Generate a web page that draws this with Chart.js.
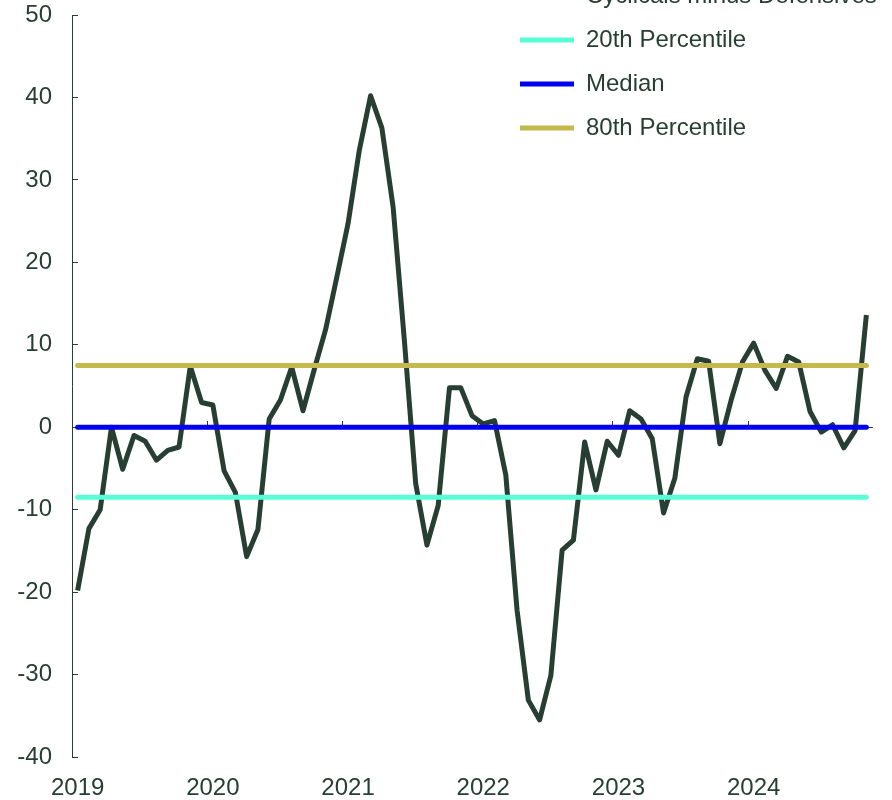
<!DOCTYPE html>
<html lang="en">
<head>
  <meta charset="UTF-8">
  <title>Cyclicals minus Defensives</title>
  <script src="https://cdn.jsdelivr.net/npm/chart.js"></script>
  <style>
    body {
      margin: 0;
      background-color: #ffffff;
    }
    .wrap {
      position: relative;
      width: 892px;
      height: 800px;
    }
  </style>
</head>
<body>
<div class="wrap">
  <canvas id="spreadChart" width="892" height="800"></canvas>
</div>

<script>
  // monthly categories, Jan 2019 - Nov 2024
  const months = [
    '2019-01','2019-02','2019-03','2019-04','2019-05','2019-06','2019-07','2019-08','2019-09','2019-10','2019-11','2019-12',
    '2020-01','2020-02','2020-03','2020-04','2020-05','2020-06','2020-07','2020-08','2020-09','2020-10','2020-11','2020-12',
    '2021-01','2021-02','2021-03','2021-04','2021-05','2021-06','2021-07','2021-08','2021-09','2021-10','2021-11','2021-12',
    '2022-01','2022-02','2022-03','2022-04','2022-05','2022-06','2022-07','2022-08','2022-09','2022-10','2022-11','2022-12',
    '2023-01','2023-02','2023-03','2023-04','2023-05','2023-06','2023-07','2023-08','2023-09','2023-10','2023-11','2023-12',
    '2024-01','2024-02','2024-03','2024-04','2024-05','2024-06','2024-07','2024-08','2024-09','2024-10','2024-11'
  ];

  const yearTicks = ['2019', '2020', '2021', '2022', '2023', '2024'];

  const spread = [
    -19.8, -12.3, -10.0, 0.0, -5.1, -1.0, -1.7, -4.0, -2.8, -2.4, 7.4, 3.0,
    2.7, -5.3, -7.9, -15.7, -12.4, 1.0, 3.3, 7.3, 2.0, 7.0, 11.8, 18.2,
    24.7, 33.6, 40.2, 36.3, 26.7, 10.5, -6.8, -14.3, -9.5, 4.8, 4.8, 1.4,
    0.4, 0.8, -5.8, -22.2, -33.1, -35.5, -30.1, -14.9, -13.7, -1.8, -7.6, -1.7,
    -3.4, 2.0, 1.0, -1.4, -10.4, -6.2, 3.7, 8.3, 8.0, -2.0, 3.3, 7.9,
    10.2, 6.9, 4.7, 8.6, 7.9, 1.9, -0.6, 0.3, -2.5, -0.4, 13.6
  ];

  const pct20 = -8.5;
  const median = 0;
  const pct80 = 7.5;

  const dark = '#273f33';

  function flatLine(v) {
    return [{x: months[0], y: v}, {x: months[months.length - 1], y: v}];
  }

  // put the legend up in the top right corner, inside the plot
  const legendSpot = {
    id: 'legendSpot',
    afterLayout(chart) {
      let lg = chart.legend;
      lg.left = 500;
      lg.top = -36;
      lg.right = lg.left + lg.width + 40;
      lg.bottom = lg.top + lg.height;
    }
  };

  Chart.defaults.font.family = "'Liberation Sans', Arial, sans-serif";
  Chart.defaults.font.size = 24;
  Chart.defaults.color = dark;

  const config = {
    type: 'line',
    data: {
      labels: months,
      datasets: [{
        label: 'Cyclicals minus Defensives',
        data: spread,
        borderColor: dark,
        backgroundColor: dark,
        borderWidth: 5,
        borderJoinStyle: 'round',
        pointRadius: 0,
        order: 1
      }, {
        label: '20th Percentile',
        data: flatLine(pct20),
        borderColor: '#58ffd6',
        backgroundColor: '#58ffd6',
        borderWidth: 5,
        borderCapStyle: 'round',
        pointRadius: 0,
        order: 0
      }, {
        label: 'Median',
        data: flatLine(median),
        borderColor: '#0000f0',
        backgroundColor: '#0000f0',
        borderWidth: 5,
        borderCapStyle: 'round',
        pointRadius: 0,
        order: 0
      }, {
        label: '80th Percentile',
        data: flatLine(pct80),
        borderColor: '#c5b84c',
        backgroundColor: '#c5b84c',
        borderWidth: 5,
        borderCapStyle: 'round',
        pointRadius: 0,
        order: 0
      }]
    },
    options: {
      responsive: false,
      animation: false,
      layout: {
        padding: {left: 17, right: 20, top: 15, bottom: 0}
      },
      plugins: {
        tooltip: {enabled: false},
        legend: {
          position: 'chartArea',
          align: 'start',
          labels: {
            usePointStyle: true,
            pointStyle: 'line',
            pointStyleWidth: 54,
            padding: 20,
            color: dark,
            font: {size: 24},
            sort: (a, b) => a.datasetIndex - b.datasetIndex
          }
        }
      },
      scales: {
        x: {
          type: 'category',
          position: 'bottom',
          offset: true,
          grid: {display: false, drawTicks: false},
          border: {display: false},
          ticks: {
            autoSkip: false,
            maxRotation: 0,
            padding: 17,
            color: dark,
            callback: function(value, index) {
              return index % 12 === 0 ? yearTicks[index / 12] : '';
            }
          },
          afterFit: (scale) => { scale.height = 43; }
        },
        x0: {
          type: 'category',
          axis: 'x',
          position: {y: 0},
          offset: true,
          grid: {
            offset: true,
            drawOnChartArea: false,
            drawTicks: true,
            tickLength: -7,
            lineWidth: 1,
            color: (ctx) => (ctx.index > 0 && ctx.index % 12 === 0) ? dark : 'rgba(0,0,0,0)'
          },
          border: {display: true, color: dark, width: 1},
          ticks: {display: false}
        },
        y: {
          min: -40,
          max: 50,
          ticks: {
            stepSize: 10,
            padding: 26,
            color: dark
          },
          grid: {
            drawOnChartArea: false,
            drawTicks: true,
            tickLength: -6,
            color: dark,
            lineWidth: 1
          },
          border: {display: true, color: dark, width: 1},
          afterFit: (scale) => {
            scale.width = 55;
            scale.paddingTop = 14;
            scale.paddingBottom = 14;
          }
        }
      }
    },
    plugins: [legendSpot]
  };

  let spreadChart = new Chart(document.getElementById('spreadChart'), config);
</script>
</body>
</html>
